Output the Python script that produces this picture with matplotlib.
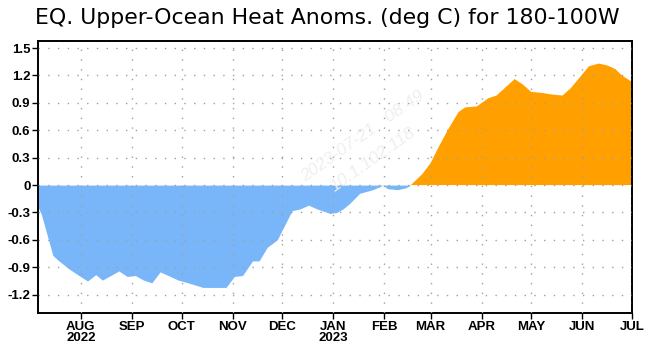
import matplotlib
matplotlib.use('Agg')
import matplotlib.pyplot as plt
import numpy as np
import pandas as pd

# heat content anomaly (deg C)
dates = ['2022-07-06', '2022-07-08', '2022-07-15', '2022-07-18', '2022-07-25', '2022-07-30',
         '2022-08-05', '2022-08-10', '2022-08-14', '2022-08-19', '2022-08-24', '2022-08-29',
         '2022-09-03', '2022-09-08', '2022-09-13', '2022-09-18', '2022-09-23', '2022-09-29',
         '2022-10-05', '2022-10-14', '2022-10-28', '2022-11-02', '2022-11-07', '2022-11-13',
         '2022-11-17', '2022-11-22', '2022-11-28', '2022-12-07', '2022-12-12', '2022-12-17',
         '2022-12-22', '2022-12-30', '2023-01-03', '2023-01-07', '2023-01-11', '2023-01-17',
         '2023-01-21', '2023-01-25', '2023-01-29', '2023-01-31', '2023-02-03', '2023-02-09',
         '2023-02-14', '2023-02-17', '2023-02-24', '2023-03-01', '2023-03-06', '2023-03-12',
         '2023-03-18', '2023-03-22', '2023-03-29', '2023-04-05', '2023-04-10', '2023-04-21',
         '2023-04-26', '2023-05-01', '2023-05-07', '2023-05-14', '2023-05-20', '2023-05-25',
         '2023-05-31', '2023-06-05', '2023-06-11', '2023-06-16', '2023-06-21', '2023-06-25',
         '2023-07-01']
anoms = [-0.24, -0.32, -0.77, -0.82, -0.92, -0.98,
         -1.05, -0.98, -1.04, -0.99, -0.94, -1.00,
         -0.99, -1.04, -1.07, -0.95, -0.99, -1.04,
         -1.07, -1.12, -1.12, -1.00, -0.99, -0.83,
         -0.83, -0.68, -0.60, -0.28, -0.26, -0.22,
         -0.26, -0.31, -0.30, -0.26, -0.20, -0.09,
         -0.07, -0.05, -0.02, 0.0, -0.04, -0.05,
         -0.03, 0.0, 0.12, 0.24, 0.42, 0.62,
         0.80, 0.85, 0.86, 0.95, 0.98, 1.16,
         1.10, 1.02, 1.01, 0.99, 0.98, 1.06,
         1.19, 1.30, 1.33, 1.31, 1.27, 1.20,
         1.13]

y_ticks = [1.5, 1.2, 0.9, 0.6, 0.3, 0, -0.3, -0.6, -0.9, -1.2]
y_labels = ['1.5', '1.2', '0.9', '0.6', '0.3', '0', '-0.3', '-0.6', '-0.9', '-1.2']
x_ticks = ['2022-08-01', '2022-09-01', '2022-10-01', '2022-11-01', '2022-12-01', '2023-01-01',
           '2023-02-01', '2023-03-01', '2023-04-01', '2023-05-01', '2023-06-01', '2023-07-01']
x_labels = ['AUG\n2022', 'SEP', 'OCT', 'NOV', 'DEC', 'JAN\n2023',
            'FEB', 'MAR', 'APR', 'MAY', 'JUN', 'JUL']

plt.rcParams['font.family'] = ['Liberation Sans', 'DejaVu Sans']

x = pd.to_datetime(dates)
y = np.array(anoms)

fig = plt.figure(figsize=(6.5, 3.53), dpi=100)
ax = fig.add_axes([0.0585, 0.1133, 0.9135, 0.7706])

ax.fill_between(x, y, 0, where=y >= 0, interpolate=True, color='#ffa000', lw=0)
ax.fill_between(x, y, 0, where=y <= 0, interpolate=True, color='#78b6f9', lw=0)

ax.set_xlim(pd.Timestamp('2022-07-06'), pd.Timestamp('2023-07-01'))
ax.set_ylim(-1.40, 1.577)

ax.set_yticks(y_ticks)
ax.set_yticklabels(y_labels, fontsize=9.5, fontweight='bold')
ax.set_xticks(pd.to_datetime(x_ticks))
ax.set_xticklabels(x_labels, fontsize=9.5, fontweight='bold', linespacing=0.95)

ax.grid(True, color='#a0a0a0', linestyle=(0, (1, 6)), linewidth=1.0)
ax.set_axisbelow(False)
ax.tick_params(axis='both', direction='out', length=4, width=1, color='black', pad=1.5)
for s in ax.spines.values():
    s.set_linewidth(1.4)

# faint watermark as in the source image
fig.text(305 / 650, 1 - 182 / 353, '2023-07-21   08:49', rotation=35, rotation_mode='anchor',
         fontsize=12.5, color='#efefef', ha='left', va='baseline', fontstyle='italic', zorder=0)
fig.text(335 / 650, 1 - 192 / 353, '10.1.102.118', rotation=35, rotation_mode='anchor',
         fontsize=12.5, color='#efefef', ha='left', va='baseline', fontstyle='italic', zorder=0)
ax.patch.set_alpha(0)

fig.text(327 / 650, 1 - 18 / 353, 'EQ. Upper-Ocean Heat Anoms. (deg C) for 180-100W',
         fontsize=15.8, ha='center', va='center', family=['DejaVu Sans'])

plt.savefig('out.png', dpi=100)
